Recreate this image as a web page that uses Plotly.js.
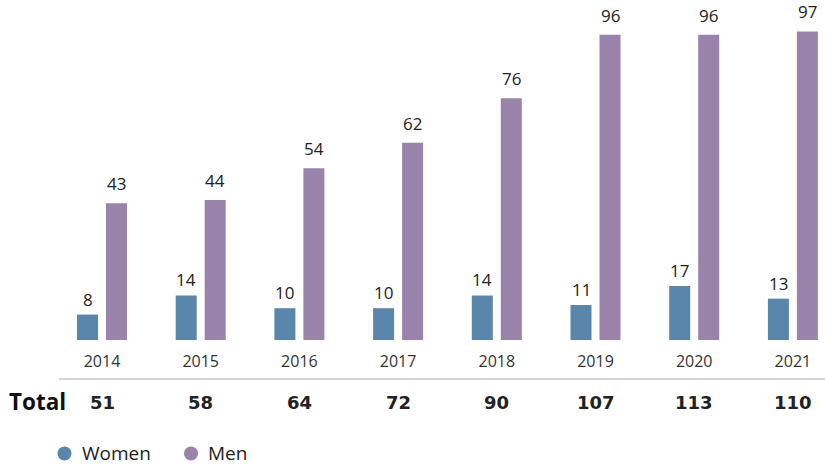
<!DOCTYPE html>
<html>
<head>
<meta charset="utf-8">
<script src="https://cdn.plot.ly/plotly-3.0.1.min.js"></script>
<style>html,body{margin:0;padding:0;background:#fff;}#chart{width:825px;height:466px;}</style>
</head>
<body>
<div id="chart"></div>
<script>
const years = ['2014','2015','2016','2017','2018','2019','2020','2021'];
const women = [8, 14, 10, 10, 14, 11, 17, 13];
const men = [43, 44, 54, 62, 76, 96, 96, 97];
const totals = [51, 58, 64, 72, 90, 107, 113, 110];
const seriesNames = ['Women', 'Men'];
const colors = ['#5b86ac', '#9983aa'];

const W = 825, H = 466, B = 126;
const plotH = H - B;
const paperY = px => (plotH - px) / plotH;

const traces = [
  {type:'bar', x: years, y: women, name: seriesNames[0], marker:{color:colors[0]}, showlegend:false, hoverinfo:'skip'},
  {type:'bar', x: years, y: men, name: seriesNames[1], marker:{color:colors[1]}, showlegend:false, hoverinfo:'skip'}
];

const annotations = [];
years.forEach((yr, i) => {
  annotations.push({x: i, y: women[i], xref:'x', yref:'y', text: String(women[i]), showarrow:false,
    xshift:-14.5, yanchor:'bottom', yshift:2, font:{family:'Open Sans', size:17, color:'#222'}});
  annotations.push({x: i, y: men[i], xref:'x', yref:'y', text: String(men[i]), showarrow:false,
    xshift:14.5, yanchor:'bottom', yshift:6, font:{family:'Open Sans', size:17, color:'#222'}});
  annotations.push({x: i, y: paperY(402), xref:'x', yref:'paper', text: '<b>' + totals[i] + '</b>', showarrow:false,
    yanchor:'middle', font:{family:'DejaVu Sans', size:18, color:'#222'}});
});
annotations.push({x: 7/W, y: paperY(401), xref:'paper', yref:'paper', text:'<b>Total</b>', showarrow:false,
  xanchor:'left', yanchor:'middle', font:{family:'Open Sans', size:22.5, color:'#111'}});

// legend (circles + labels)
const legendX = [64.5, 191];
const legendY = 453;
const shapes = [{type:'line', xref:'paper', yref:'paper', x0: 59/W, x1: 1, y0: paperY(379), y1: paperY(379),
    line:{color:'#d6d6d6', width:2}}];
seriesNames.forEach((nm, k) => {
  shapes.push({type:'circle', xref:'paper', yref:'paper', xsizemode:'pixel', ysizemode:'pixel',
    xanchor: legendX[k]/W, yanchor: paperY(legendY + 0.5), x0:-7, x1:7, y0:-7, y1:7,
    fillcolor: colors[k], line:{width:0}});
  annotations.push({x: (legendX[k] + 16)/W, y: paperY(legendY), xref:'paper', yref:'paper', text: nm, showarrow:false,
    xanchor:'left', yanchor:'middle', borderpad:0, font:{family:'Open Sans', size:19, color:'#222'}});
});

const layout = {
  width: W, height: H,
  margin: {l:0, r:0, t:0, b:B, pad:0, autoexpand:false},
  paper_bgcolor:'#fff', plot_bgcolor:'#fff',
  barmode:'group', bargap:0.412, bargroupgap:0.276,
  xaxis: {type:'category', range:[-102/98.7, (W-102)/98.7], showgrid:false, zeroline:false, showline:false,
    ticks:'', ticklabelstandoff:10, tickfont:{family:'Open Sans', size:16, color:'#333'}},
  yaxis: {range:[0, 106.9], visible:false, showgrid:false, zeroline:false},
  showlegend:false,
  shapes: shapes,
  annotations: annotations
};

Plotly.newPlot('chart', traces, layout, {displayModeBar:false, staticPlot:true});
</script>
</body>
</html>
